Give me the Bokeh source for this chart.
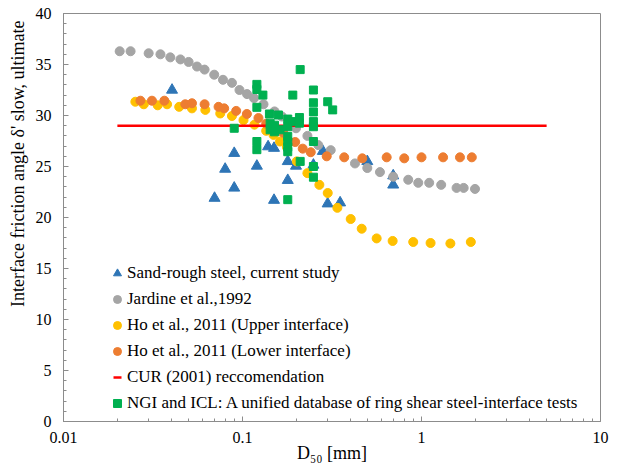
from bokeh.plotting import figure
from bokeh.models import (FixedTicker, Legend, LegendItem, Range1d,
                          CustomJSTickFormatter, Title)
from bokeh.embed import file_html
from bokeh.resources import INLINE

# ---------------- data ----------------
sand_d = [0.0404, 0.0698, 0.080, 0.0899, 0.0899, 0.1203, 0.139, 0.150, 0.150,
          0.179, 0.179, 0.199, 0.249, 0.281, 0.299, 0.351, 0.498, 0.695, 0.695]
sand_delta = [32.5, 21.9, 24.75, 26.3, 22.9, 25.05, 26.95, 26.8, 21.7,
              25.5, 23.65, 25.05, 25.15, 26.5, 21.35, 21.45, 25.5, 24.1, 23.2]

jardine_d = [0.0206, 0.0237, 0.0299, 0.0348, 0.0395, 0.045, 0.050, 0.0557,
             0.0614, 0.0695, 0.0778, 0.0873, 0.0962, 0.106, 0.116, 0.131,
             0.151, 0.166, 0.199, 0.2305, 0.265, 0.311, 0.425, 0.498, 0.586,
             0.695, 0.843, 0.959, 1.104, 1.288, 1.57, 1.72, 1.99]
jardine_delta = [36.3, 36.3, 36.1, 36.0, 35.7, 35.5, 35.25, 34.8, 34.5, 34.0,
                 33.5, 33.2, 32.5, 32.1, 31.7, 31.1, 30.4, 29.9, 28.75, 28.0,
                 27.1, 26.6, 25.3, 24.85, 24.45, 24.0, 23.7, 23.4, 23.4, 23.2,
                 22.9, 22.9, 22.8]

ho_up_d = [0.0252, 0.0281, 0.0336, 0.0379, 0.0443, 0.0522, 0.062, 0.0751,
           0.0873, 0.1013, 0.1166, 0.1356, 0.149, 0.162, 0.177, 0.201, 0.2305,
           0.2688, 0.2993, 0.3388, 0.4023, 0.4634, 0.5617, 0.69, 0.899, 1.124,
           1.45, 1.886]
ho_up_delta = [31.35, 31.1, 31.0, 31.1, 30.85, 30.7, 30.55, 30.2, 29.95, 29.55,
               29.1, 28.5, 28.1, 27.45, 26.9, 25.5, 24.35, 23.2, 22.4, 20.95,
               19.85, 18.9, 17.95, 17.7, 17.6, 17.5, 17.45, 17.6]

ho_low_d = [0.0269, 0.0312, 0.0366, 0.0479, 0.0522, 0.0614, 0.0735, 0.079,
            0.0922, 0.1058, 0.1228, 0.1356, 0.148, 0.169, 0.197, 0.217, 0.2406,
            0.2955, 0.37, 0.467, 0.639, 0.801, 1.0, 1.32, 1.64, 1.91]
ho_low_delta = [31.45, 31.45, 31.45, 31.1, 31.2, 31.1, 30.85, 30.7, 30.45,
                30.15, 29.75, 29.2, 28.9, 28.3, 27.4, 26.75, 26.4, 26.0, 25.9,
                25.8, 25.9, 25.8, 25.9, 25.9, 25.9, 25.9]

cur_d = [0.02, 5.0]
cur_delta = [29.0, 29.0]

ngi_d = [0.0899, 0.1203, 0.1203, 0.1203, 0.1203, 0.1203, 0.13, 0.1414, 0.1427,
         0.1427, 0.151, 0.151, 0.1588, 0.162, 0.179, 0.179, 0.179, 0.179, 0.179,
         0.179, 0.179, 0.1926, 0.191, 0.208, 0.208, 0.21, 0.21, 0.249, 0.249,
         0.249, 0.249, 0.249, 0.249, 0.249, 0.249, 0.2993, 0.319]
ngi_delta = [28.75, 33.05, 32.55, 30.8, 27.45, 26.65, 32.0, 30.15, 29.25, 28.6,
             29.05, 28.4, 30.05, 28.6, 29.65, 28.9, 27.95, 27.45, 26.9, 26.45,
             21.75, 29.4, 32.0, 29.8, 29.25, 34.5, 25.5, 32.5, 31.25, 30.35,
             29.4, 28.9, 27.45, 25.0, 23.95, 31.35, 30.55]

x_major = [0.01, 0.1, 1, 10]
y_major = [0, 5, 10, 15, 20, 25, 30, 35, 40]

labels = ["Sand-rough steel, current study",
          "Jardine et al.,1992",
          "Ho et al., 2011 (Upper interface)",
          "Ho et al., 2011 (Lower interface)",
          "CUR (2001) reccomendation",
          "NGI and ICL: A unified database of ring shear steel-interface tests"]

x_title = "D\u2085\u2080 [mm]"
y_title = "Interface friction angle \u03b4' slow, ultimate"

FONT = "Liberation Serif"
AX = "#8c8c8c"

p = figure(width=619, height=465, x_axis_type="log", x_range=(0.01, 10),
           y_range=(0, 40), output_backend="svg", toolbar_location=None,
           min_border_left=63, min_border_right=19, min_border_top=13,
           min_border_bottom=42)
p.xgrid.visible = False
p.ygrid.visible = False
p.outline_line_color = AX
p.outline_line_width = 1
p.background_fill_color = "white"
p.border_fill_color = "white"
# range used only by the legend swatch of the CUR line (its points fall outside the frame)
p.extra_y_ranges = {"legend_only": Range1d(1000, 2000)}

r_sand = p.scatter(sand_d, sand_delta, marker="triangle", size=11,
                   fill_color="#2E75B6", line_color="#2E75B6")
r_jar = p.scatter(jardine_d, jardine_delta, marker="circle", size=9,
                  fill_color="#A5A5A5", line_color="#A5A5A5")
r_up = p.scatter(ho_up_d, ho_up_delta, marker="circle", size=9,
                 fill_color="#FFC000", line_color="#FFC000")
r_low = p.scatter(ho_low_d, ho_low_delta, marker="circle", size=9,
                  fill_color="#ED7D31", line_color="#ED7D31")
r_cur = p.line(cur_d, cur_delta, line_color="#FF0000", line_width=2.5)
r_cur_leg = p.scatter(cur_d, cur_delta, marker="dash", size=10,
                      line_color="#FF0000", line_width=2.5,
                      y_range_name="legend_only")
r_ngi = p.scatter(ngi_d, ngi_delta, marker="square", size=8,
                  fill_color="#00B050", line_color="#00B050")

# axes
xa = p.xaxis[0]
xa.ticker = FixedTicker(ticks=x_major,
                        minor_ticks=[m * d for d in [0.01, 0.1, 1] for m in range(2, 10)])
xa.formatter = CustomJSTickFormatter(code="return String(tick);")
ya = p.yaxis[0]
ya.ticker = FixedTicker(ticks=y_major, minor_ticks=list(range(0, 41)))

for ax in (xa, ya):
    ax.axis_line_color = AX
    ax.major_tick_line_color = AX
    ax.minor_tick_line_color = AX
    ax.major_tick_in = 5
    ax.major_tick_out = 0
    ax.minor_tick_in = 3
    ax.minor_tick_out = 0
    ax.major_label_text_font = FONT
    ax.major_label_text_font_size = "16px"
    ax.major_label_text_color = "black"
    ax.axis_label_text_font = FONT
    ax.axis_label_text_font_style = "normal"
    ax.axis_label_text_color = "black"

xa.axis_label = x_title
xa.axis_label_text_font_size = "18px"
xa.major_label_standoff = 10
xa.axis_label_standoff = -3

ya.major_label_standoff = 12

yt = Title(text=y_title, align="right", offset=7, text_font=FONT,
           text_font_size="18px", text_font_style="normal", text_color="black")
p.add_layout(yt, "left")

items = [LegendItem(label=labels[0], renderers=[r_sand]),
         LegendItem(label=labels[1], renderers=[r_jar]),
         LegendItem(label=labels[2], renderers=[r_up]),
         LegendItem(label=labels[3], renderers=[r_low]),
         LegendItem(label=labels[4], renderers=[r_cur_leg]),
         LegendItem(label=labels[5], renderers=[r_ngi])]
legend = Legend(items=items, location=(44, 8), glyph_width=20, glyph_height=20,
                label_height=20, spacing=6, padding=0, margin=0,
                label_standoff=-6, border_line_alpha=0, background_fill_alpha=0,
                label_text_font=FONT, label_text_font_size="17px",
                label_text_color="black")
p.add_layout(legend)

open("out.html", "w").write(file_html(p, INLINE))
